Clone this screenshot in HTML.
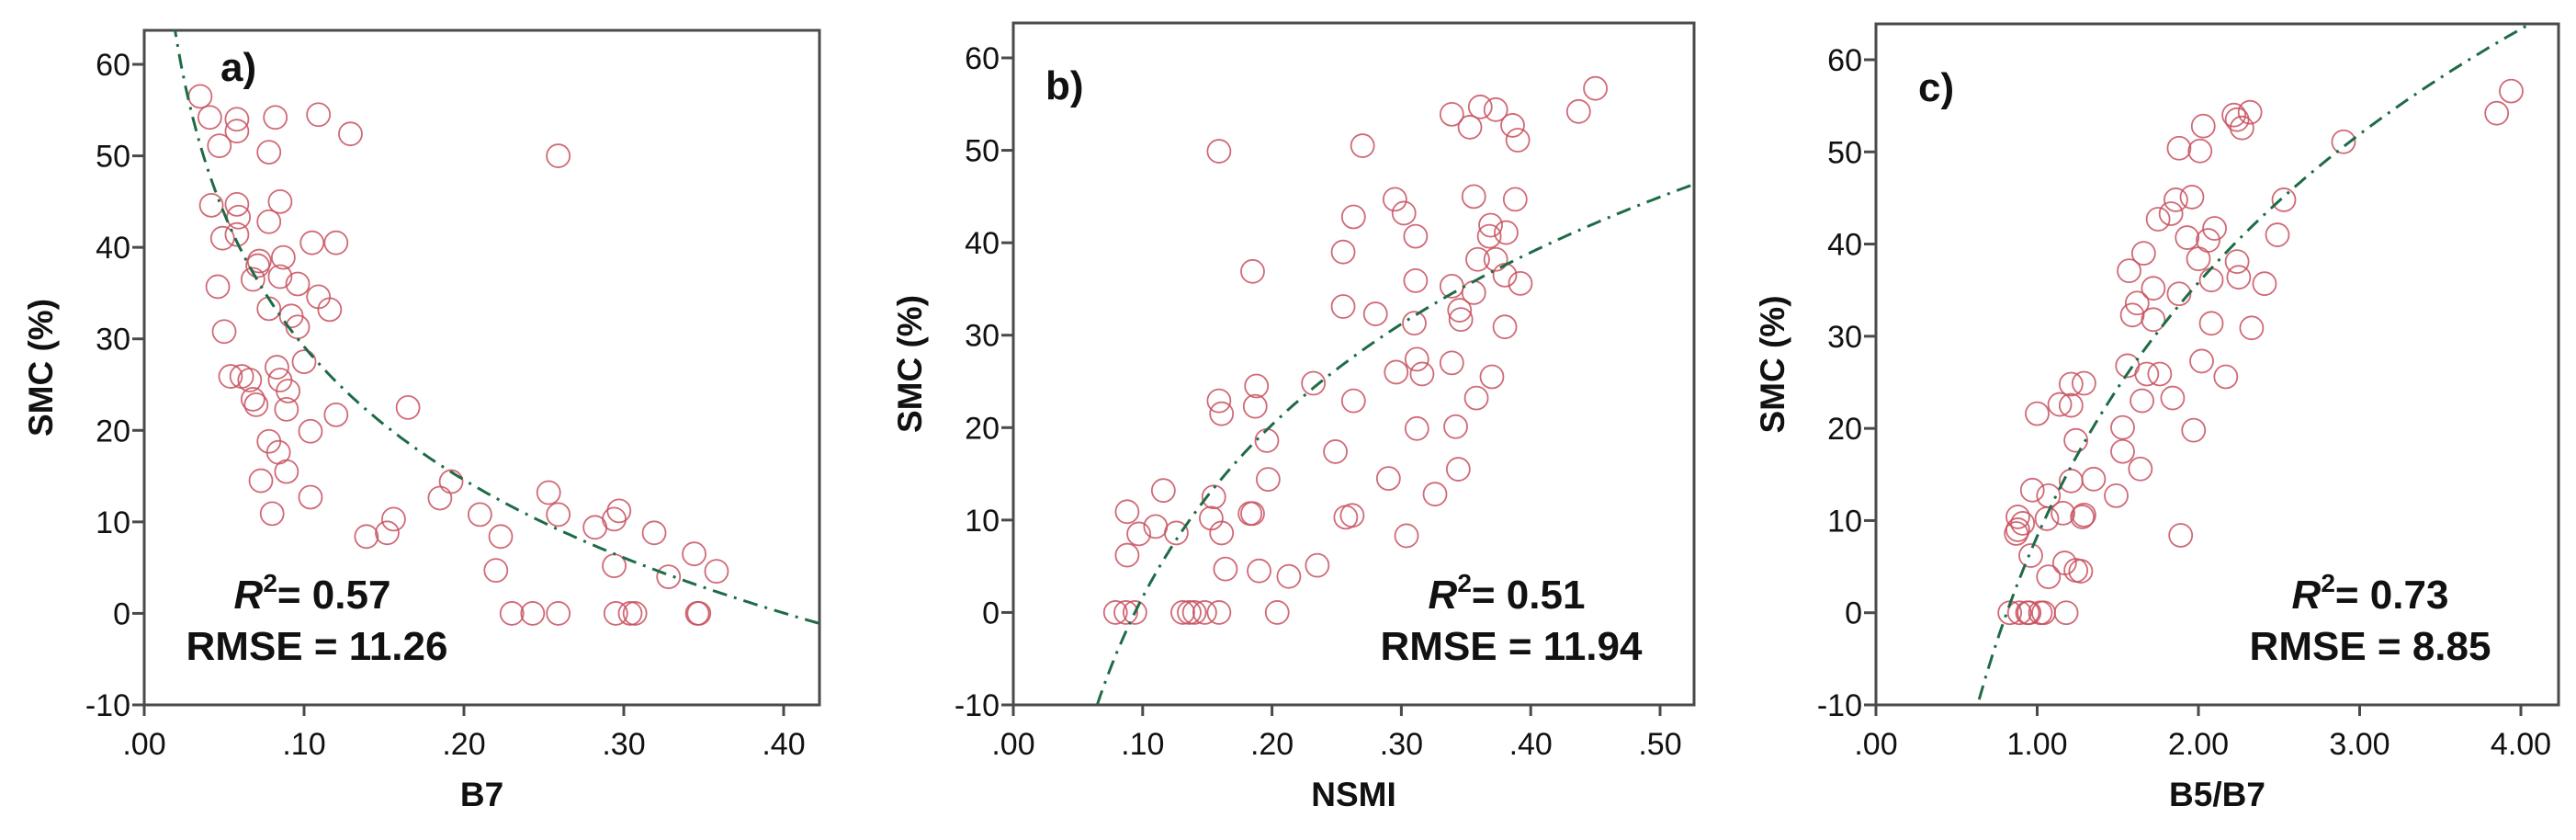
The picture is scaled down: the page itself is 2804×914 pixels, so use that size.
<!DOCTYPE html>
<html><head><meta charset="utf-8"><style>
html,body{margin:0;padding:0;background:#fff;width:2804px;height:914px;overflow:hidden;}
svg{display:block;position:absolute;left:0;top:0;}
text{font-family:"Liberation Sans",Arial,sans-serif;fill:#111;}
</style></head><body>
<svg id="chart" width="2804" height="914" viewBox="0 0 2804 914" xmlns="http://www.w3.org/2000/svg"></svg>
<script>
// Panel a: B7
const aX = [.035,.041,.058,.058,.047,.082,.109,.129,.078,.259,.042,.058,.085,.059,.078,.049,.058,.105,.120,.072,.071,.087,.046,.068,.085,.096,.109,.116,.078,.092,.096,.050,.100,.083,.054,.061,.066,.085,.090,.070,.068,.089,.120,.104,.165,.078,.084,.089,.073,.104,.080,.192,.185,.156,.152,.139,.210,.223,.220,.253,.259,.282,.294,.297,.319,.294,.344,.358,.328,.230,.243,.259,.295,.304,.307,.346,.347];
const aY = [56.5,54.2,54.0,52.7,51.1,54.2,54.5,52.4,50.4,50.0,44.6,44.7,45.0,43.3,42.8,41.0,41.4,40.5,40.5,38.5,38.0,38.9,35.7,36.5,36.8,36.0,34.6,33.2,33.3,32.5,31.3,30.8,27.5,26.9,25.9,25.9,25.5,25.5,24.3,22.8,23.4,22.3,21.7,19.9,22.5,18.8,17.6,15.5,14.5,12.7,10.9,14.4,12.6,10.3,8.8,8.4,10.8,8.4,4.7,13.2,10.8,9.4,10.3,11.2,8.8,5.2,6.5,4.6,4.0,0,0,0,0,0,0,0,0];
const aXTicks = [".00",".10",".20",".30",".40"];
const aXTickVals = [0,0.1,0.2,0.3,0.4];
const aFit = [-19.2,-21.0]; // y = A + B ln x

// Panel b: NSMI
const bX = [.450,.437,.339,.361,.373,.353,.386,.390,.159,.270,.295,.356,.388,.302,.263,.369,.368,.311,.381,.255,.185,.359,.373,.311,.339,.380,.392,.356,.255,.280,.345,.346,.310,.380,.339,.312,.296,.316,.370,.232,.358,.263,.159,.161,.188,.187,.196,.312,.342,.249,.197,.290,.344,.326,.116,.155,.088,.183,.185,.257,.262,.110,.097,.126,.153,.161,.304,.088,.235,.190,.164,.213,.079,.087,.094,.131,.136,.140,.148,.159,.204];
const bY = [56.7,54.2,53.9,54.7,54.4,52.5,52.7,51.1,49.9,50.5,44.7,45.0,44.7,43.2,42.8,41.9,40.7,40.7,41.1,39.0,36.9,38.2,38.2,35.9,35.3,36.5,35.6,34.6,33.1,32.3,32.7,31.7,31.3,30.9,27.0,27.4,26.0,25.8,25.5,24.8,23.2,22.9,22.9,21.5,24.5,22.3,18.6,19.9,20.1,17.4,14.4,14.5,15.5,12.8,13.2,12.5,10.9,10.7,10.7,10.3,10.5,9.3,8.5,8.6,10.2,8.6,8.3,6.2,5.1,4.5,4.7,3.9,0,0,0,0,0,0,0,0,0];
const bXTicks = [".00",".10",".20",".30",".40",".50"];
const bXTickVals = [0,0.1,0.2,0.3,0.4,0.5];
const bFit = [63.6,26.9];

// Panel c: B5/B7
const cX = [3.94,3.85,2.22,2.27,2.32,2.24,2.03,1.88,2.01,2.90,2.53,1.96,1.86,1.75,1.83,2.10,2.06,2.49,1.93,2.00,2.24,2.25,2.08,2.41,1.66,1.57,1.72,1.88,1.62,1.59,1.72,2.08,2.33,1.56,1.68,1.76,2.02,2.17,1.65,1.84,1.00,1.14,1.21,1.29,1.21,1.24,1.53,1.97,1.53,1.64,1.21,1.35,0.97,1.07,1.49,1.16,1.28,1.29,0.88,0.91,0.87,0.88,1.06,1.89,0.96,1.17,1.24,1.27,1.07,0.83,0.89,0.94,0.95,1.02,1.04,1.18];
const cY = [56.6,54.2,54.0,52.6,54.3,53.5,52.8,50.4,50.1,51.1,44.8,45.1,44.8,42.7,43.3,41.7,40.4,41.0,40.7,38.4,38.1,36.4,36.1,35.7,39.0,37.1,35.2,34.6,33.6,32.3,31.8,31.4,30.9,26.8,25.9,25.9,27.3,25.6,23.0,23.3,21.6,22.6,22.5,24.9,24.8,18.7,20.1,19.8,17.5,15.6,14.3,14.5,13.3,12.7,12.7,10.8,10.4,10.6,10.4,9.7,8.6,9.0,10.2,8.4,6.2,5.4,4.6,4.5,3.9,0,0,0,0,0,0,0];
const cXTicks = [".00","1.00","2.00","3.00","4.00"];
const cXTickVals = [0,1,2,3,4];
const cFit = [8.3,39.7];

const yTickVals = [-10,0,10,20,30,40,50,60];

const NS = "http://www.w3.org/2000/svg";
const svg = document.getElementById('chart');
function mk(tag, attrs, parent, txt){
  const e = document.createElementNS(NS, tag);
  for (const k in attrs) e.setAttribute(k, attrs[k]);
  if (txt !== undefined) e.textContent = txt;
  (parent||svg).appendChild(e);
  return e;
}

function panel(cfg){
  const g = mk('g', {});
  
  
  const sx = v => cfg.x0 + (v - cfg.xmin) / (cfg.xTickVals[cfg.xTickVals.length-1] - cfg.xmin) * (cfg.xLast - cfg.x0);
  const sy = v => cfg.yb - (v + 10) / 70 * (cfg.yb - cfg.y60);
  const fr = mk('rect', {x:cfg.x0, y:cfg.top, width:cfg.right-cfg.x0, height:cfg.yb-cfg.top, fill:'none', stroke:'#4a4a4a', 'stroke-width':3}, g);
  
  
  yTickVals.forEach(v => {
    const y = sy(v);
    mk('line', {x1:cfg.x0-13, x2:cfg.x0, y1:y, y2:y, stroke:'#4a4a4a', 'stroke-width':3}, g);
    const t = mk('text', {x:cfg.x0-15, y:y+12, 'text-anchor':'end', 'font-size':34}, g, String(v));
    
    
  });
  cfg.xTickVals.forEach((v,i) => {
    const x = sx(v);
    mk('line', {x1:x, x2:x, y1:cfg.yb, y2:cfg.yb+12, stroke:'#4a4a4a', 'stroke-width':3}, g);
    const t = mk('text', {x:x, y:cfg.yb+54, 'text-anchor':'middle', 'font-size':34}, g, cfg.xTicks[i]);
    
    
  });
  const yt = mk('text', {x:0, y:0, transform:`translate(${cfg.x0-100},${(cfg.top+cfg.yb)/2}) rotate(-90)`, 'text-anchor':'middle', 'font-size':37, 'font-weight':'bold'}, g, 'SMC (%)');
  
  
  const xt = mk('text', {x:(cfg.x0+cfg.right)/2, y:cfg.yb+110, 'text-anchor':'middle', 'font-size':37, 'font-weight':'bold'}, g, cfg.xTitle);
  
  
  const cp = mk('clipPath', {id:'clip-'+cfg.id}, g);
  mk('rect', {x:cfg.x0, y:cfg.top, width:cfg.right-cfg.x0, height:cfg.yb-cfg.top}, cp);
  cfg.xs.forEach((xv,i) => {
    const c = mk('circle', {cx:sx(xv), cy:sy(cfg.ys[i]), r:12.5, fill:'none', stroke:'#c8505e', 'stroke-width':1.8, 'stroke-opacity':0.85}, g);
    
    
  });
  const xEnd = cfg.xmin + (cfg.right - cfg.x0) / (cfg.xLast - cfg.x0) * (cfg.xTickVals[cfg.xTickVals.length-1] - cfg.xmin);
  let d = '';
  const N = 300;
  const xStart = xEnd / 200;
  for (let k=0;k<=N;k++){
    const xv = xStart + (xEnd - xStart) * k / N;
    const yv = cfg.fit[0] + cfg.fit[1] * Math.log(xv);
    d += (k?'L':'M') + sx(xv).toFixed(1) + ',' + sy(yv).toFixed(1);
  }
  const p = mk('path', {d:d, fill:'none', stroke:'#1e6b47', 'stroke-width':3, 'stroke-dasharray':'16 8 3 8', 'clip-path':`url(#clip-${cfg.id})`}, g);
  
  
  const pl = mk('text', {x:cfg.lab[0], y:cfg.lab[1], 'font-size':44, 'font-weight':'bold'}, g, cfg.id + ')');
  
  
  const r2 = mk('text', {x:cfg.r2x, y:662, 'text-anchor':'middle', 'font-size':44, 'font-weight':'bold'}, g);
  
  
  mk('tspan', {'font-style':'italic'}, r2, 'R');
  mk('tspan', {dy:-18, 'font-size':28}, r2, '2');
  mk('tspan', {dy:18}, r2, '= ' + cfg.r2);
  const rm = mk('text', {x:cfg.rmx, y:718, 'text-anchor':'middle', 'font-size':44, 'font-weight':'bold'}, g, 'RMSE = ' + cfg.rmse);
  
  
}

panel({id:'a', xs:aX, ys:aY, xTicks:aXTicks, xTickVals:aXTickVals, fit:aFit, xmin:0,
  x0:157, xLast:853, right:892, top:33, yb:767, y60:70, xTitle:'B7', lab:[240,88], r2:'0.57', r2x:340, rmx:345, rmse:'11.26'});
panel({id:'b', xs:bX, ys:bY, xTicks:bXTicks, xTickVals:bXTickVals, fit:bFit, xmin:0,
  x0:1103, xLast:1807, right:1844, top:25, yb:767, y60:63, xTitle:'NSMI', lab:[1138,108], r2:'0.51', r2x:1640, rmx:1645, rmse:'11.94'});
panel({id:'c', xs:cX, ys:cY, xTicks:cXTicks, xTickVals:cXTickVals, fit:cFit, xmin:0,
  x0:2042, xLast:2744, right:2785, top:26, yb:767, y60:65, xTitle:'B5/B7', lab:[2088,110], r2:'0.73', r2x:2580, rmx:2580, rmse:'8.85'});
</script>
</body></html>
